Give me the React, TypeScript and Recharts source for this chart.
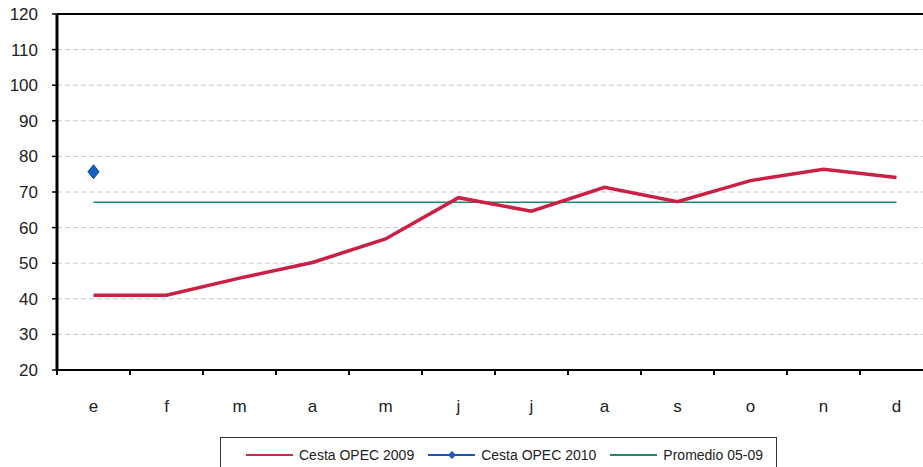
import { LineChart, Line, XAxis, YAxis, CartesianGrid, ReferenceLine } from "recharts";

const months = ["e", "f", "m", "a", "m", "j", "j", "a", "s", "o", "n", "d"];
const cesta2009 = [41, 41, 45.8, 50.2, 56.8, 68.4, 64.6, 71.3, 67.3, 73.2, 76.4, 74.1];
const cesta2010 = [75.7, null, null, null, null, null, null, null, null, null, null, null];
const promedio = [67.1, 67.1, 67.1, 67.1, 67.1, 67.1, 67.1, 67.1, 67.1, 67.1, 67.1, 67.1];
const yTicks = [20, 30, 40, 50, 60, 70, 80, 90, 100, 110, 120];

const data = months.map((m, i) => ({
  key: `${m}${i}`,
  month: m,
  c2009: cesta2009[i],
  c2010: cesta2010[i],
  prom: promedio[i],
}));

const FONT = "'Liberation Sans', Arial, sans-serif";
const CHART_W = 940;
const LEFT = 57;
const RIGHT = 7;
const HALF_BAND = (CHART_W - LEFT - RIGHT) / months.length / 2;

const Diamond = (props: any) => {
  const { cx, cy, value } = props;
  if (value == null || cx == null) return null;
  const r = 7;
  return (
    <path
      d={`M${cx},${cy - r} L${cx + r * 0.8},${cy} L${cx},${cy + r} L${cx - r * 0.8},${cy} Z`}
      fill="#1560c0"
      stroke="#0d4a9a"
      strokeWidth={1}
    />
  );
};

const MonthTick = (props: any) => {
  const { x, y, payload } = props;
  return (
    <g>
      <line x1={x - HALF_BAND} x2={x - HALF_BAND} y1={y - 8} y2={y - 3} stroke="#000" strokeWidth={2} />
      <text x={x} y={y + 34} textAnchor="middle" fontSize={17} fill="#222" fontFamily={FONT}>
        {months[payload.index] ?? payload.value}
      </text>
    </g>
  );
};

function LegendBox() {
  const item = (color: string, label: string, marker?: boolean) => (
    <div style={{ display: "flex", alignItems: "center", marginRight: 13, flexShrink: 0, whiteSpace: "nowrap" }}>
      <svg width={49} height={10} style={{ marginRight: 5 }}>
        <line x1={1} x2={48} y1={5} y2={5} stroke={color} strokeWidth={2} />
        {marker && <path d="M25,1 L29,5 L25,9 L21,5 Z" fill={color} />}
      </svg>
      <span>{label}</span>
    </div>
  );
  return (
    <div
      style={{
        position: "absolute",
        left: 220,
        top: 437,
        width: 557,
        height: 50,
        border: "1.5px solid #333",
        boxSizing: "border-box",
        fontFamily: FONT,
        fontSize: 14,
        color: "#222",
        display: "flex",
        alignItems: "flex-start",
        paddingTop: 9,
        paddingLeft: 24,
        background: "#fff",
      }}
    >
      {item("#d0284e", "Cesta OPEC 2009")}
      {item("#1a55c8", "Cesta OPEC 2010", true)}
      {item("#1e8a6a", "Promedio 05-09")}
    </div>
  );
}

export default function App() {
  return (
    <div
      style={{
        position: "absolute",
        left: 0,
        top: 0,
        width: 923,
        height: 467,
        overflow: "hidden",
        background: "#fff",
      }}
    >
      <LineChart
        width={CHART_W}
        height={467}
        data={data}
        margin={{ top: 14, right: RIGHT, left: 0, bottom: 67 }}
      >
        <CartesianGrid
          vertical={false}
          stroke="#c8c8c8"
          strokeDasharray="5 3"
          horizontalValues={[30, 40, 50, 60, 70, 80, 90, 100, 110]}
        />
        <ReferenceLine y={120} stroke="#000" strokeWidth={2} />
        <XAxis
          dataKey="key"
          scale="band"
          axisLine={{ stroke: "#000", strokeWidth: 2 }}
          tickLine={false}
          interval={0}
          height={30}
          tick={<MonthTick />}
        />
        <YAxis
          domain={[20, 120]}
          ticks={yTicks}
          interval={0}
          width={LEFT}
          axisLine={{ stroke: "#000", strokeWidth: 3 }}
          tickLine={{ stroke: "#000", strokeWidth: 1.5 }}
          tickSize={5}
          tick={{ fontSize: 17, fill: "#222", fontFamily: FONT }}
          tickMargin={14}
        />
        <Line
          dataKey="prom"
          stroke="#1e8a6a"
          strokeWidth={1.5}
          dot={false}
          isAnimationActive={false}
        />
        <Line
          dataKey="c2009"
          stroke="#cc1f45"
          strokeWidth={3.5}
          dot={false}
          isAnimationActive={false}
        />
        <Line
          dataKey="c2010"
          stroke="#1a55c8"
          strokeWidth={2}
          dot={<Diamond />}
          activeDot={false}
          connectNulls={false}
          isAnimationActive={false}
        />
      </LineChart>
      <LegendBox />
    </div>
  );
}
